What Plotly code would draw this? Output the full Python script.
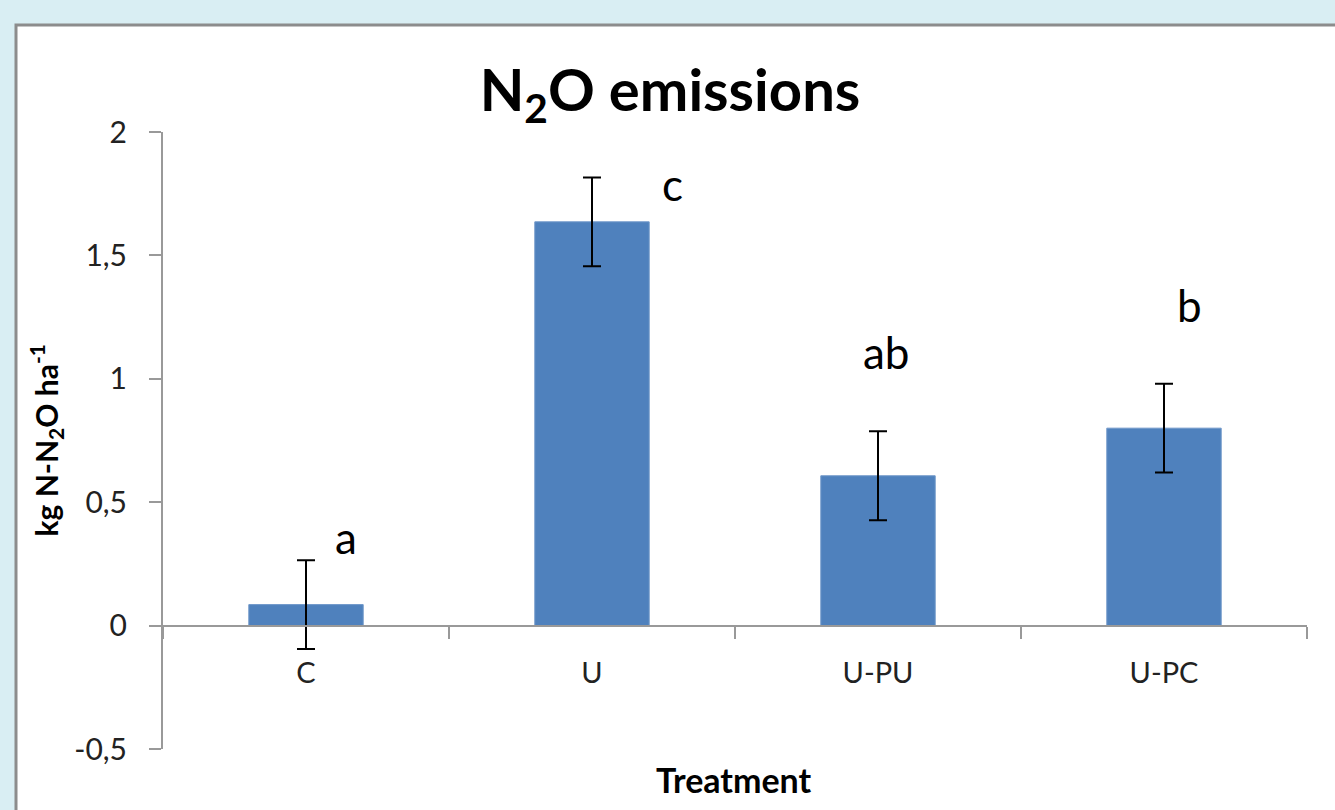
import plotly.graph_objects as go

categories = ["C", "U", "U-PU", "U-PC"]
values = [0.085, 1.636, 0.607, 0.80]
errors = [0.18, 0.18, 0.18, 0.18]
letters = ["a", "c", "ab", "b"]
letter_dx = [0.14, 0.28, 0.03, 0.09]
letter_y = [0.36, 1.79, 1.11, 1.30]
ytick_vals = [-0.5, 0, 0.5, 1, 1.5, 2]
ytick_text = ["-0,5", "0", "0,5", "1", "1,5", "2"]

FONT = "Lato"
W, H = 1335, 810
ML, MR, MT, MB = 163, 28, 132, 61
PW = W - ML - MR
PH = H - MT - MB

def px_x(px):
    return (px - ML) / PW

def px_y(py):
    return (H - MB - py) / PH

fig = go.Figure()
fig.add_trace(go.Bar(
    x=categories, y=values, width=0.4,
    marker=dict(color="#4F81BD", line=dict(color="#6f97c9", width=1)),
    error_y=dict(type="data", array=errors, color="black", thickness=2, width=9),
    showlegend=False,
))

annotations = []
for i, (t, dx, yy) in enumerate(zip(letters, letter_dx, letter_y)):
    annotations.append(dict(x=i + dx, y=yy, xref="x", yref="y", text=t, showarrow=False,
                            font=dict(family=FONT, size=44, color="black"),
                            xanchor="center", yanchor="middle"))
annotations.append(dict(x=px_x(734), y=px_y(780), xref="paper", yref="paper", text="<b>Treatment</b>",
                        showarrow=False, font=dict(family=FONT, size=34, color="black"),
                        xanchor="center", yanchor="middle"))
annotations.append(dict(x=px_x(46), y=0.5, xref="paper", yref="paper",
                        text="<b>kg N-N<sub>2</sub>O ha<sup>-1</sup></b>", textangle=-90,
                        showarrow=False, font=dict(family=FONT, size=30, color="black"),
                        xanchor="center", yanchor="middle"))

fig.update_layout(
    width=W, height=H,
    margin=dict(l=ML, r=MR, t=MT, b=MB, pad=0),
    paper_bgcolor="#d9eef3",
    plot_bgcolor="rgba(0,0,0,0)",
    separators=",.",
    title=dict(text="<b>N<sub>2</sub>O emissions</b>", x=670 / W, xref="container",
               y=1 - 91 / H, yanchor="middle", xanchor="center",
               font=dict(family=FONT, size=58, color="black")),
    font=dict(family=FONT, color="black"),
    annotations=annotations,
    shapes=[dict(type="rect", xref="paper", yref="paper", layer="below",
                 x0=px_x(16), x1=px_x(1345), y0=px_y(820), y1=px_y(25),
                 fillcolor="white", line=dict(color="#8c8c8c", width=3))],
    xaxis=dict(range=[-0.5, 3.5], anchor="free", position=0.2, showline=True, linecolor="#999999",
               linewidth=2, ticks="outside", tickson="boundaries", ticklen=12, tickwidth=2,
               tickcolor="#999999", showgrid=False, ticklabelstandoff=22,
               tickfont=dict(family=FONT, size=29, color="#222222")),
    yaxis=dict(range=[-0.5, 2], tickvals=ytick_vals, ticktext=ytick_text, showline=True,
               linecolor="#999999", linewidth=2, ticks="outside", ticklen=12, tickwidth=2,
               tickcolor="#999999", showgrid=False, zeroline=False, ticklabelstandoff=16,
               tickfont=dict(family=FONT, size=30, color="#222222")),
)

fig.write_html("out.html", config={"displayModeBar": False},
               post_script="document.body.style.margin='0px';")
